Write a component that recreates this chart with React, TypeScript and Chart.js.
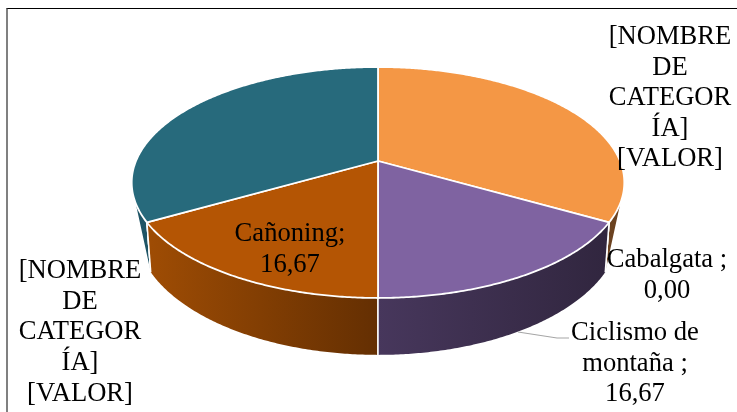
import React, { useEffect, useRef } from "react";
import { Chart, registerables } from "chart.js";

Chart.register(...registerables);

const categories = ["[NOMBRE DE CATEGORÍA]", "Cabalgata", "Ciclismo de montaña", "Cañoning", "[NOMBRE DE CATEGORÍA]"];
const values = [33.33, 0, 16.67, 16.67, 33.33];
const topColors = ["#F49745", "#4BACC6", "#7F63A1", "#B45504", "#276A7C"];

const labelGeneric = ["[NOMBRE", "DE", "CATEGOR", "ÍA]", "[VALOR]"];
const labelCabalgata = ["Cabalgata ;", "0,00"];
const labelCiclismo = ["Ciclismo de", "montaña ;", "16,67"];
const labelCanoning = ["Cañoning;", "16,67"];

const rad = Math.PI / 180;
const K = 0.186;
const topRim = { cx: 378, cy: 161, bx: 242, ay: 111.5 };
const bottomRim = { cx: 378, cy: 205, bx: 238, ay: 122 };

// Perspective projection of a point on the pie's disc; theta is measured clockwise from 12 o'clock.
function project(rim: typeof topRim, theta: number, radius = 1): [number, number] {
  const u = Math.sin(theta) * radius;
  const v = -Math.cos(theta) * radius;
  const d = 1 - K * v;
  return [rim.cx + (rim.bx * u) / d, rim.cy + (rim.ay * v) / d];
}

function rimPath(ctx: CanvasRenderingContext2D, rim: typeof topRim, from: number, to: number, move = false) {
  const n = Math.max(2, Math.ceil(Math.abs(to - from) / (0.5 * rad)));
  for (let i = 0; i <= n; i++) {
    const p = project(rim, from + ((to - from) * i) / n);
    if (i === 0 && move) ctx.moveTo(p[0], p[1]);
    else ctx.lineTo(p[0], p[1]);
  }
}

const wallStart = 110.6 * rad;
const wallEnd = 249.4 * rad;
const baseStart = 120 * rad;
const baseEnd = 240 * rad;

const wallFills: Record<number, [string, string]> = {
  0: ["#6B4220", "#6B4220"],
  2: ["#47375C", "#31263F"],
  3: ["#9E4C04", "#642F02"],
  4: ["#1F5566", "#1F5566"],
};

const pie3d = {
  id: "pie3d",
  beforeDatasetDraw(chart: Chart) {
    const ctx = chart.ctx;
    const arcs = chart.getDatasetMeta(0).data as any[];
    const spans = arcs.map((a) => ({
      start: a.startAngle + Math.PI / 2,
      end: a.endAngle + Math.PI / 2,
    }));
    ctx.save();
    ctx.lineJoin = "round";
    // side walls, back to front
    [0, 4, 3, 2].forEach((i) => {
      const s = spans[i];
      if (s.end - s.start <= 0) return;
      const a = Math.max(s.start, wallStart);
      const b = Math.min(s.end, wallEnd);
      if (b <= a) return;
      const ba = Math.min(Math.max(a, baseStart), baseEnd);
      const bb = Math.min(Math.max(b, baseStart), baseEnd);
      ctx.beginPath();
      rimPath(ctx, topRim, a, b, true);
      rimPath(ctx, bottomRim, bb, ba);
      ctx.closePath();
      const p0 = project(bottomRim, ba);
      const p1 = project(bottomRim, bb);
      const [c0, c1] = wallFills[i];
      const left = Math.min(p0[0], p1[0]);
      const right = Math.max(p0[0], p1[0]);
      const g = ctx.createLinearGradient(left, 0, Math.max(right, left + 1), 0);
      g.addColorStop(0, c0);
      g.addColorStop(1, c1);
      ctx.fillStyle = g;
      ctx.fill();
      ctx.strokeStyle = "#FFFFFF";
      ctx.lineWidth = 1.5;
      const t0 = project(topRim, ba);
      const t1 = project(bottomRim, ba);
      ctx.beginPath();
      ctx.moveTo(t0[0], t0[1]);
      ctx.lineTo(t1[0], t1[1]);
      ctx.stroke();
      const t2 = project(topRim, bb);
      const t3 = project(bottomRim, bb);
      ctx.beginPath();
      ctx.moveTo(t2[0], t2[1]);
      ctx.lineTo(t3[0], t3[1]);
      ctx.stroke();
    });
    // top faces
    spans.forEach((s, i) => {
      if (s.end - s.start <= 0) return;
      ctx.beginPath();
      ctx.moveTo(topRim.cx, topRim.cy);
      rimPath(ctx, topRim, s.start, s.end);
      ctx.closePath();
      ctx.fillStyle = topColors[i];
      ctx.fill();
      ctx.strokeStyle = "#FFFFFF";
      ctx.lineWidth = 1.8;
      ctx.stroke();
    });
    ctx.restore();
    return false;
  },
  afterDatasetsDraw(chart: Chart) {
    const ctx = chart.ctx;
    ctx.save();
    ctx.strokeStyle = "#A6A6A6";
    ctx.lineWidth = 1.2;
    ctx.beginPath();
    ctx.moveTo(518, 332);
    ctx.lineTo(557, 338);
    ctx.lineTo(569, 338);
    ctx.stroke();
    ctx.fillStyle = "#000000";
    ctx.font = '26.6px "Liberation Serif"';
    ctx.textAlign = "center";
    ctx.textBaseline = "alphabetic";
    const block = (lines: string[], x: number, y: number, pitch: number) =>
      lines.forEach((t, i) => ctx.fillText(t, x, y + i * pitch));
    block(labelGeneric, 670, 44, 30.5);
    block(labelGeneric, 80, 278, 30.7);
    block(labelCabalgata, 667, 267, 31);
    block(labelCiclismo, 635, 340, 30.6);
    block(labelCanoning, 290, 241, 30.6);
    ctx.restore();
  },
};

export default function App() {
  const ref = useRef<HTMLCanvasElement>(null);
  useEffect(() => {
    if (!ref.current) return;
    const chart = new Chart(ref.current, {
      type: "pie",
      data: {
        labels: categories,
        datasets: [{ data: values, backgroundColor: topColors, borderWidth: 0 }],
      },
      options: {
        animation: false,
        responsive: false,
        plugins: { legend: { display: false }, tooltip: { enabled: false } },
      },
      plugins: [pie3d as any],
    });
    return () => chart.destroy();
  }, []);
  return (
    <div style={{ position: "fixed", left: 0, top: 0, width: 737, height: 412, background: "#fff", overflow: "hidden" }}>
      <canvas ref={ref} width={737} height={412} style={{ display: "block", position: "absolute", left: 0, top: 0 }} />
      <div
        style={{
          position: "absolute",
          left: 6,
          top: 8,
          right: 0,
          bottom: 0,
          borderTop: "1px solid #000",
          borderLeft: "2px solid #808080",
          pointerEvents: "none",
        }}
      />
    </div>
  );
}
